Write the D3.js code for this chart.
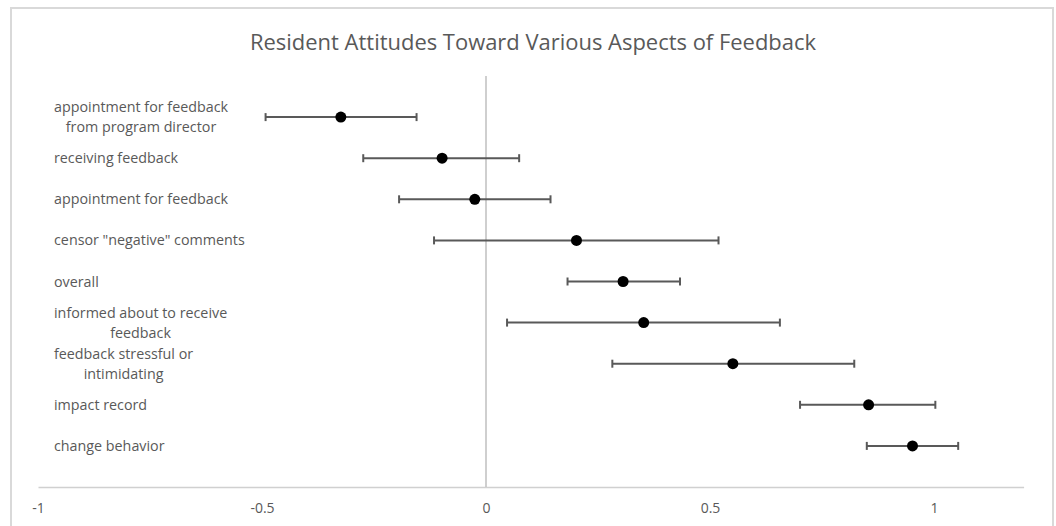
<!DOCTYPE html>
<html>
<head>
<meta charset="utf-8">
<script src="https://cdn.jsdelivr.net/npm/d3@7"></script>
<style>
  body { margin: 0; background: #fff; }
  text { font-family: "Open Sans", sans-serif; fill: #595959; }
</style>
</head>
<body>
<script>
// Data
var labels = [
  ["appointment for feedback", "from program director"],
  ["receiving feedback"],
  ["appointment for feedback"],
  ["censor \"negative\" comments"],
  ["overall"],
  ["informed about to receive", "feedback"],
  ["feedback stressful or", "intimidating"],
  ["impact record"],
  ["change behavior"]
];
var means = [-0.324, -0.098, -0.025, 0.202, 0.306, 0.352, 0.551, 0.854, 0.952];
var lower = [-0.492, -0.274, -0.194, -0.116, 0.182, 0.047, 0.282, 0.701, 0.850];
var upper = [-0.155, 0.074, 0.144, 0.519, 0.433, 0.656, 0.822, 1.003, 1.054];
var xTicks = [-1, -0.5, 0, 0.5, 1];
var xTickLabels = ["-1", "-0.5", "0", "0.5", "1"];

var W = 1056, H = 526;
var svg = d3.select("body").append("svg").attr("width", W).attr("height", H);

// chart frame
svg.append("rect")
   .attr("x", 11).attr("y", 8)
   .attr("width", 1042).attr("height", 540)
   .attr("fill", "#fff")
   .attr("stroke", "#d9d9d9").attr("stroke-width", 2);

svg.append("text")
   .attr("x", 533).attr("y", 50)
   .attr("text-anchor", "middle")
   .style("font-size", "22px")
   .attr("textLength", 566).attr("lengthAdjust", "spacingAndGlyphs")
   .text("Resident Attitudes Toward Various Aspects of Feedback");

var x = d3.scaleLinear().domain([-1, 1.2]).range([38, 1023.6]);
var y = d3.scalePoint().domain(d3.range(labels.length)).range([76, 487]).padding(1);

// x axis
var xAxis = d3.axisBottom(x).tickValues(xTicks).tickSize(0).tickPadding(16)
              .tickFormat(function(d, i){ return xTickLabels[i]; });
var gx = svg.append("g").attr("transform", "translate(0,487)").call(xAxis);
gx.select(".domain").attr("stroke", "#d0d0d0").attr("stroke-width", 1.5);
gx.selectAll("text").style("font-size", "14px").style("font-family", "Open Sans, sans-serif").attr("fill", "#595959");

// zero line
svg.append("line")
   .attr("x1", x(0)).attr("x2", x(0))
   .attr("y1", 76).attr("y2", 487)
   .attr("stroke", "#bfbfbf").attr("stroke-width", 1.5);

// category labels (multi-line ones centred within their block)
var lineH = 20;
labels.forEach(function(lines, i){
    var g = svg.append("g");
    var texts = lines.map(function(t, j){
        return g.append("text")
                .attr("y", y(i) + (j - (lines.length - 1) / 2) * lineH)
                .attr("dy", "0.35em")
                .attr("text-anchor", "middle")
                .style("font-size", "14.3px")
                .text(t);
    });
    var maxW = d3.max(texts, function(t){ return t.node().getComputedTextLength(); });
    texts.forEach(function(t){ t.attr("x", 54 + maxW / 2); });
});

// error bars
var bars = svg.append("g").attr("stroke", "#595959").attr("stroke-width", 2);
means.forEach(function(m, i){
    bars.append("line").attr("x1", x(lower[i])).attr("x2", x(upper[i]))
        .attr("y1", y(i)).attr("y2", y(i));
    [lower[i], upper[i]].forEach(function(v){
        bars.append("line").attr("x1", x(v)).attr("x2", x(v))
            .attr("y1", y(i) - 4).attr("y2", y(i) + 4);
    });
});

// means
svg.append("g").selectAll("circle").data(means).enter().append("circle")
   .attr("cx", function(d){ return x(d); })
   .attr("cy", function(d, i){ return y(i); })
   .attr("r", 5.5)
   .attr("fill", "#000");
</script>
</body>
</html>
